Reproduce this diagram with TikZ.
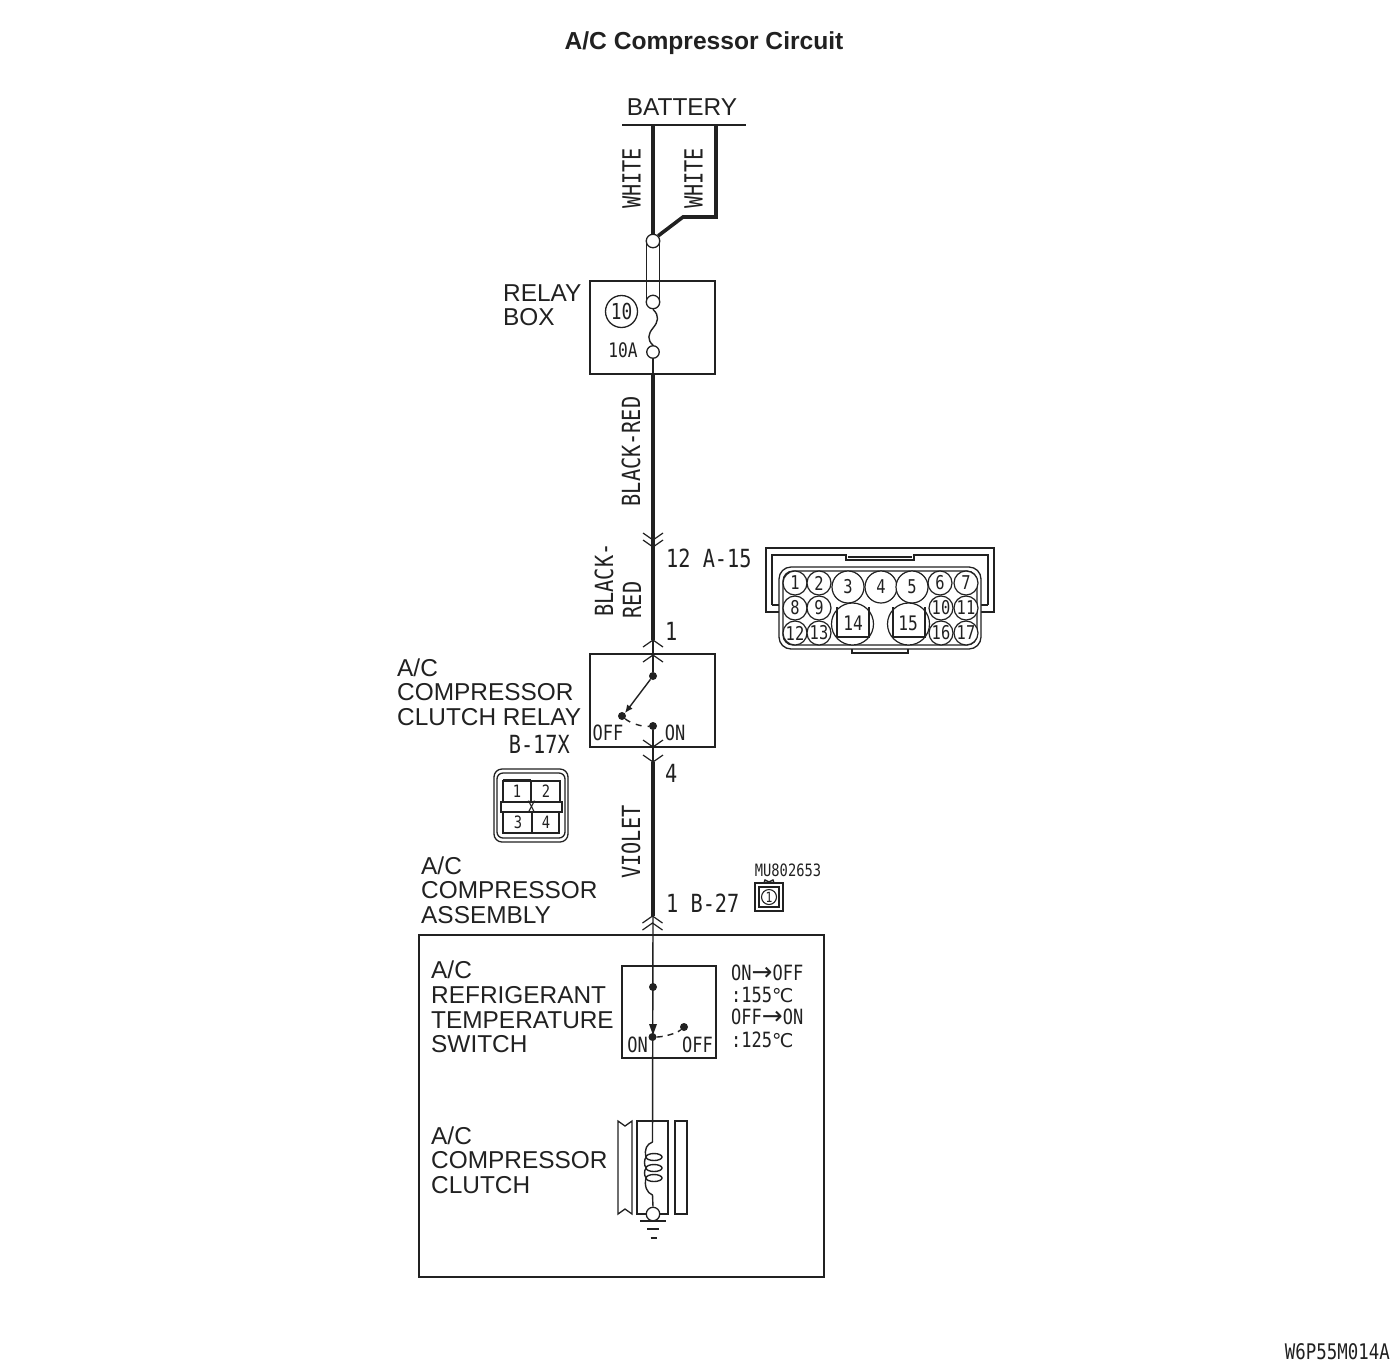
\documentclass[tikz,border=0pt]{standalone}
\usepackage{fontspec}
\setmainfont{Liberation Sans}
\newfontfamily\gothic[FakeStretch=0.81]{DejaVu Sans Mono}
\newfontfamily\symf{DejaVu Sans}
\usetikzlibrary{arrows.meta,calc}
\definecolor{ink}{gray}{0.13}
\tikzset{
  x=1pt,y=-1pt,
  lab/.style={inner sep=0pt,anchor=west,font=\fontsize{24.4}{24}\selectfont,text=ink},
  cab/.style={inner sep=0pt,font=\gothic\fontsize{25}{25}\selectfont,text=ink},
  cabv/.style={cab,rotate=90},
  tiny/.style={inner sep=0pt,font=\gothic\fontsize{21}{21}\selectfont,text=ink},
  cell/.style={inner sep=0pt,font=\gothic\fontsize{17}{17}\selectfont,text=ink},
  pinn/.style={circle,draw=ink,fill=white,line width=1.2pt,inner sep=0pt,minimum size=24pt,font=\gothic\fontsize{19}{19}\selectfont,text=ink},
  pinb/.style={pinn,minimum size=32pt},
  pinl/.style={pinn,minimum size=42pt},
  box/.style={draw=ink,line width=1.3pt},
  heavy wire/.style={draw=ink,line width=3.6pt},
  thin wire/.style={draw=ink,line width=1.4pt},
  term/.style={circle,draw=ink,fill=white,line width=1.3pt,inner sep=0pt,minimum size=13.5pt},
  dot/.style={circle,fill=ink,inner sep=0pt,minimum size=8pt},
  chev/.style={draw=ink,line width=1.2pt},
}
\newcommand{\chevup}[1]{\draw[chev] ($(#1)+(-10,7)$) -- (#1) -- ($(#1)+(10,7)$);}
\newcommand{\chevdn}[1]{\draw[chev] ($(#1)+(-10,-7)$) -- (#1) -- ($(#1)+(10,-7)$);}
\newcommand{\arr}{\smash{\symf\fontsize{25}{25}\selectfont→}}
\newcommand{\degc}{\smash{\symf\fontsize{19}{19}\selectfont℃}}
\begin{document}
\begin{tikzpicture}
\useasboundingbox (0,0) rectangle (1400,1369);
\fill[white] (0,0) rectangle (1400,1369);
% title
\node[inner sep=0pt,font=\bfseries\fontsize{24.6}{24}\selectfont,text=ink] (title) at (704,43) {A/C Compressor Circuit};
\node[lab,anchor=center] (battery) at (682,107) {BATTERY};
% battery bar
\coordinate (barL) at (622,125); \coordinate (barR) at (746,125);
\draw[draw=ink,line width=2.6pt] (barL) -- (barR);
\coordinate (w1t) at (653,125); \coordinate (w2t) at (716,125);
\coordinate (w2a) at (716,217); \coordinate (w2b) at (683,217);
% relay box
\draw[box] (590,281) rectangle (715,374);
\draw[thin wire] (646.5,241) -- (646.5,302);
\draw[thin wire] (659.5,241) -- (659.5,302);
\node[term] (t1) at (653,241) {};
\node[term] (t2) at (653,302) {};
\node[term,minimum size=12.5pt] (t3) at (653,352) {};
\draw[heavy wire] (w1t) -- (t1.north);
\draw[heavy wire,line join=miter] (w2t) -- (w2a) -- (w2b) -- (t1.north east);
\draw[thin wire] (t2.south) .. controls (660,316) and (658,322) .. (653,328) .. controls (648,334) and (647,340) .. (t3.north);
\node[cabv] (w1) at (631.5,178.5) {WHITE};
\node[cabv] (w2) at (693.5,178.5) {WHITE};
\node[lab] (relaybox1) at (503,293) {RELAY};
\node[lab] (relaybox2) at (503,317) {BOX};
\node[circle,draw=ink,line width=1.3pt,inner sep=0pt,minimum size=32pt,font=\gothic\fontsize{22}{22}\selectfont,text=ink] (ten) at (621.5,311.5) {10};
\node[inner sep=0pt,font=\gothic\fontsize{20}{20}\selectfont,text=ink] (tenA) at (623,350) {10A};
\coordinate (boxbot) at (653,374);
\draw[thin wire] (t3.south) -- (boxbot);
\coordinate (c2) at (653,640);
\draw[heavy wire] (boxbot) -- (c2);
\chevdn{653,540}
\chevdn{653,547}
\node[cabv] (br1) at (631,451.5) {BLACK-RED};
\node[cabv] (br2a) at (604,580) {BLACK-};
\node[cabv] (br2b) at (632,600) {RED};
\node[cab,anchor=west] (n12) at (666,558) {12 A-15};
\node[cab,anchor=west] (n1) at (665,631) {1};
% relay
\draw[box] (590,654) rectangle (715,747);
\node[dot] (r1) at (653,676) {};
\node[dot] (r2) at (622,716) {};
\node[dot] (r3) at (653,726) {};
\coordinate (c3) at (653,762);
\draw[thin wire] (c2) -- (r1);
\draw[thin wire] (r3) -- (c3);
\chevup{653,640}
\chevup{653,655}
\draw[thin wire,-{Latex[length=8pt,width=7pt]}] (r1) -- (r2.north east);
\draw[thin wire,dash pattern=on 6pt off 6pt] (r2) .. controls (630,723) and (642,727) .. (r3);
\node[tiny] (off1) at (608,733) {OFF};
\node[tiny] (on1) at (675,733) {ON};
\chevdn{653,747}
\chevdn{653,762}
\node[lab] (acr1) at (397,668) {A/C};
\node[lab] (acr2) at (397,692) {COMPRESSOR};
\node[lab] (acr3) at (397,717) {CLUTCH RELAY};
\node[cab,anchor=east] (b17) at (570,744) {B-17X};
\node[cab,anchor=west] (n4) at (665,773) {4};
\coordinate (c4) at (653,916);
\draw[heavy wire] (c3) -- (c4);
\node[cabv] (vio) at (631,842) {VIOLET};
% B-17X connector
\draw[box,rounded corners=8pt] (494,769) rectangle (568,842);
\draw[box,rounded corners=6pt] (497,773) rectangle (565,838);
\draw[box] (503,781) rectangle (531,802);
\draw[box] (531,781) rectangle (560,802);
\draw[box] (503,812) rectangle (532,833);
\draw[box] (532,812) rectangle (559,833);
\draw[box] (501,802) rectangle (562,812);
\draw[draw=ink,line width=2.6pt] (503,780) -- (531,780);
\draw[draw=ink,line width=2.6pt] (533,833) -- (559,833);
\node[cell] (px) at (531.5,807) {X};
\node[cell] (p1) at (517,791) {1};
\node[cell] (p2) at (546,791) {2};
\node[cell] (p3) at (518,822) {3};
\node[cell] (p4) at (546,822) {4};
% A-15 connector
\draw[box] (779,612) -- (766,612) -- (766,548) -- (994,548) -- (994,612) -- (981,612);
\draw[box] (772,605) -- (772,555) -- (846,555) -- (846,560) -- (914,560) -- (914,555) -- (988,555) -- (988,605);
\draw[box] (848,557) -- (912,557);
\draw[box] (772,605) -- (779,605); \draw[box] (981,605) -- (988,605);
\draw[box,fill=white,rounded corners=12pt] (779,567) rectangle (981,649);
\draw[box,rounded corners=10pt] (783,571) rectangle (977,645);
\draw[box] (852,649) -- (852,653) -- (908,653) -- (908,649);
\foreach \n/\x/\y in {1/795/583,2/819/583,6/940/583,7/966/583,8/795/608,9/819/608,10/941/608,11/966/608,12/795/633,13/819/633,16/941/633,17/966/633}
  \node[pinn] (pin\n) at (\x,\y) {\n};
\foreach \n/\x/\y in {3/848/587,4/881/587,5/912/587}
  \node[pinb] (pin\n) at (\x,\y) {\n};
\node[pinl] (pin14) at (852.5,624) {};
\node[pinl] (pin15) at (908.5,624) {};
\draw[box] (837,607) -- (837,637) -- (869,637) -- (869,607);
\draw[box] (893,607) -- (893,637) -- (925,637) -- (925,607);
\node[inner sep=0pt,font=\gothic\fontsize{20}{20}\selectfont,text=ink] (l14) at (853,623) {14};
\node[inner sep=0pt,font=\gothic\fontsize{20}{20}\selectfont,text=ink] (l15) at (908,623) {15};
% assembly
\draw[box] (419,935) rectangle (824,1277);
\node[lab] (asm1) at (421,866) {A/C};
\node[lab] (asm2) at (421,890) {COMPRESSOR};
\node[lab] (asm3) at (421,915) {ASSEMBLY};
\node[cab,anchor=west] (b27) at (666,903) {1 B-27};
\node[inner sep=0pt,font=\gothic\fontsize{17}{17}\selectfont,text=ink] (mu) at (788,870) {MU802653};
\draw[box] (755,883) rectangle (783,911);
\draw[box] (759,887) rectangle (779,907);
\draw[thin wire] (764,883) -- (765,880) -- (769,882) -- (773,880) -- (774,883);
\node[circle,draw=ink,line width=1.1pt,fill=white,inner sep=0pt,minimum size=15pt,font=\gothic\fontsize{14}{14}\selectfont,text=ink] (one) at (769,897) {1};
\chevup{652.5,916}
\chevup{652.5,923}
% switch
\draw[box] (622,966) rectangle (716,1058);
\coordinate (c5) at (652.5,1142);
\draw[thin wire] (c4) -- (c5);
\node[dot] (s1) at (653,987) {};
\node[dot] (s2) at (652.5,1037) {};
\node[dot] (s3) at (684,1027) {};
\fill[ink] (649,1024) -- (657,1024) -- (653,1035) -- cycle;
\draw[thin wire,dash pattern=on 6pt off 5pt] (s2) .. controls (662,1037) and (676,1034) .. (s3);
\node[tiny] (on2) at (637.5,1045) {ON};
\node[tiny] (off2) at (697.5,1045) {OFF};
\node[lab] (sw1) at (431,970) {A/C};
\node[lab] (sw2) at (431,995) {REFRIGERANT};
\node[lab] (sw3) at (431,1020) {TEMPERATURE};
\node[lab] (sw4) at (431,1044) {SWITCH};
\node[tiny,anchor=west] (t1a) at (731,973) {ON\arr OFF};
\node[tiny,anchor=west] (t1b) at (731,995) {:155\degc};
\node[tiny,anchor=west] (t2a) at (731,1017) {OFF\arr ON};
\node[tiny,anchor=west] (t2b) at (731,1040) {:125\degc};
% clutch
\draw[box] (618,1121) -- (625,1126) -- (632,1121) -- (632,1214) -- (625,1209) -- (618,1214) -- cycle;
\draw[box] (637,1121) rectangle (668,1214);
\draw[box] (675,1121) rectangle (687,1214);
\node[lab] (cl1) at (431,1136) {A/C};
\node[lab] (cl2) at (431,1160) {COMPRESSOR};
\node[lab] (cl3) at (431,1185) {CLUTCH};
\foreach \y in {1157,1168,1178}
  \draw[thin wire] (654,\y) ellipse [x radius=8,y radius=3.5];
\coordinate (c6) at (652.5,1195);
\draw[thin wire,line cap=round] (c5) .. controls (647,1144) and (644,1149) .. (646,1157)
  .. controls (644,1160) and (644,1165) .. (646,1168)
  .. controls (644,1171) and (644,1175) .. (646,1178)
  .. controls (644,1186) and (647,1193) .. (c6);
\node[term] (gnd) at (653,1214) {};
\draw[thin wire] (c6) -- (gnd.north);
\coordinate (g1) at (640,1221); \coordinate (g2) at (666,1221);
\draw[thin wire] (g1) -- (g2);
\draw[thin wire] (647,1229) -- (659,1229);
\draw[thin wire] (650.5,1238) -- (656.5,1238);
\node[inner sep=0pt,anchor=east,font=\gothic\fontsize{21.5}{21}\selectfont,text=ink] (code) at (1390,1352) {W6P55M014A};
\end{tikzpicture}
\end{document}
